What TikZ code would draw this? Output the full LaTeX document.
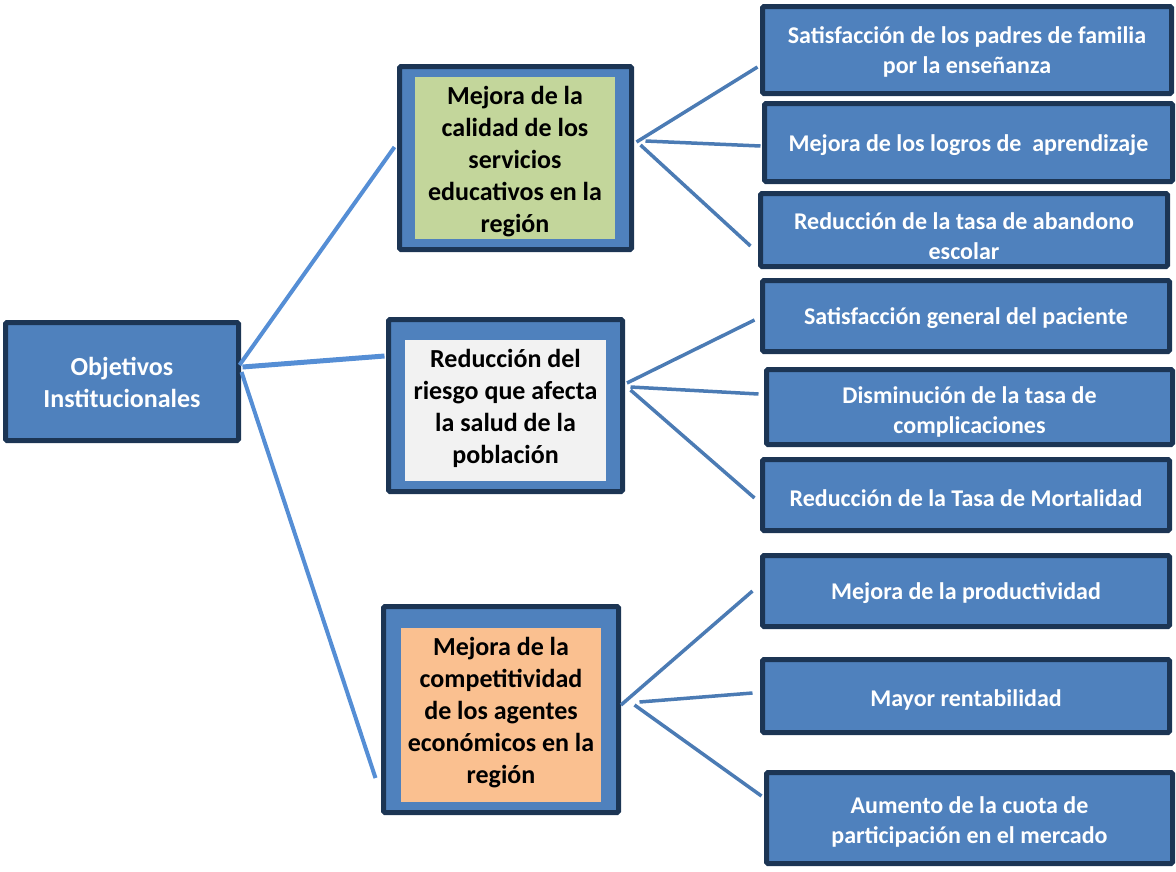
\documentclass[tikz,border=0pt]{standalone}
\usepackage{xcolor}
\usepackage{fontspec}
\setmainfont{Carlito}
\usepackage{tikz}

\definecolor{azul}{HTML}{4F81BD}
\definecolor{marino}{HTML}{1C3554}
\definecolor{linea}{HTML}{558ED5}
\definecolor{verde}{HTML}{C3D69B}
\definecolor{gris}{HTML}{F2F2F2}
\definecolor{naranja}{HTML}{FAC090}

\tikzset{
  caja/.style={draw=marino,line width=5pt,fill=azul,rounded corners=1.5pt,inner sep=0pt},
  fondo/.style={inner sep=0pt},
  grande/.style={align=center,font=\fontsize{26}{32}\selectfont\bfseries},
  meta/.style={align=center,text=white,font=\fontsize{24}{30}\selectfont\bfseries},
  rama/.style={draw=linea,line width=4pt},
  hoja/.style={draw=azul!95!black,line width=3.5pt}
}

\begin{document}
\begin{tikzpicture}[x=1pt,y=-1pt]
\useasboundingbox (0,0) rectangle (1176,871);
%raiz
\node[caja,minimum width=233,minimum height=118] (root) at (122,381.5) {};
\node[grande,text=white] (roott) at (122,382.5) {Objetivos\\Institucionales};
%objetivos
\node[caja,minimum width=232,minimum height=183] (m1) at (515.5,158) {};
\node[fondo,fill=verde,minimum width=200,minimum height=162] (f1) at (515,158) {};
\node[grande] (t1) at (515,161.5) {Mejora de la\\calidad de los\\servicios\\educativos en la\\región};
\node[caja,minimum width=234,minimum height=172] (m2) at (505.5,405.5) {};
\node[fondo,fill=gris,minimum width=201,minimum height=141] (f2) at (505.5,410.5) {};
\node[grande] (t2) at (505.5,408) {Reducción del\\riesgo que afecta\\la salud de la\\población};
\node[caja,minimum width=235,minimum height=206] (m3) at (501,709.5) {};
\node[fondo,fill=naranja,minimum width=200,minimum height=174] (f3) at (501,715) {};
\node[grande] (t3) at (501,712.5) {Mejora de la\\competitividad\\de los agentes\\económicos en la\\región};
%indicadores
\node[caja,minimum width=409,minimum height=87] (r1) at (967,50) {};
\node[meta] (r1t) at (967,52) {Satisfacción de los padres de familia\\por la enseñanza};
\node[caja,minimum width=408,minimum height=78] (r2) at (968.5,142.5) {};
\node[meta] (r2t) at (968.5,145) {Mejora de los logros de~ aprendizaje};
\node[caja,minimum width=407,minimum height=73] (r3) at (964,230) {};
\begin{scope}
\clip (760,193) rectangle (1168,258);
\node[meta] (r3t) at (964,236) {Reducción de la tasa de abandono\\escolar};
\end{scope}
\node[caja,minimum width=407,minimum height=71] (r4) at (966,316) {};
\node[meta] (r4t) at (966,318.5) {Satisfacción general del paciente};
\node[caja,minimum width=406,minimum height=75] (r5) at (969.5,407) {};
\node[meta] (r5t) at (969.5,412) {Disminución de la tasa de\\complicaciones};
\node[caja,minimum width=407,minimum height=71] (r6) at (966,495) {};
\node[meta] (r6t) at (966,498.5) {Reducción de la Tasa de Mortalidad};
\node[caja,minimum width=407,minimum height=71] (r7) at (966,591) {};
\node[meta] (r7t) at (966,593.5) {Mejora de la productividad};
\node[caja,minimum width=407,minimum height=73] (r8) at (966,696) {};
\node[meta] (r8t) at (966,699.5) {Mayor rentabilidad};
\node[caja,minimum width=406,minimum height=91] (r9) at (969.5,818) {};
\node[meta] (r9t) at (969.5,822) {Aumento de la cuota de\\participación en el mercado};
%lineas
\draw[rama] ([shift={(-1.5,-16.5)}]root.east) -- ([shift={(-2.5,-11)}]m1.west);
\draw[rama,line width=5pt] ([shift={(1.5,-14.5)}]root.east) -- ([shift={(-1.5,-49.5)}]m2.west);
\draw[rama] ([shift={(0.5,-9.5)}]root.east) -- ([shift={(-5.5,68.5)}]m3.west);
\draw[hoja] ([shift={(2.5,-16)}]m1.east) -- ([shift={(-2.5,17)}]r1.west);
\draw[hoja] ([shift={(11.5,-17)}]m1.east) -- ([shift={(-1.5,3.5)}]r2.west);
\draw[hoja] ([shift={(6.5,-13)}]m1.east) -- ([shift={(-7.5,16)}]r3.west);
\draw[hoja] ([shift={(2,-22.5)}]m2.east) -- ([shift={(-5.5,4)}]r4.west);
\draw[hoja] ([shift={(5.5,-18.5)}]m2.east) -- ([shift={(-5.5,-13)}]r5.west);
\draw[hoja] ([shift={(5.5,-15.5)}]m2.east) -- ([shift={(-5.5,3)}]r6.west);
\draw[hoja] ([shift={(0,-4.5)}]m3.east) -- ([shift={(-7.5,0)}]r7.west);
\draw[hoja] ([shift={(18.5,-7.5)}]m3.east) -- ([shift={(-7.5,-3)}]r8.west);
\draw[hoja] ([shift={(13.5,-4.5)}]m3.east) -- ([shift={(-2.5,-22)}]r9.west);
\end{tikzpicture}
\end{document}
